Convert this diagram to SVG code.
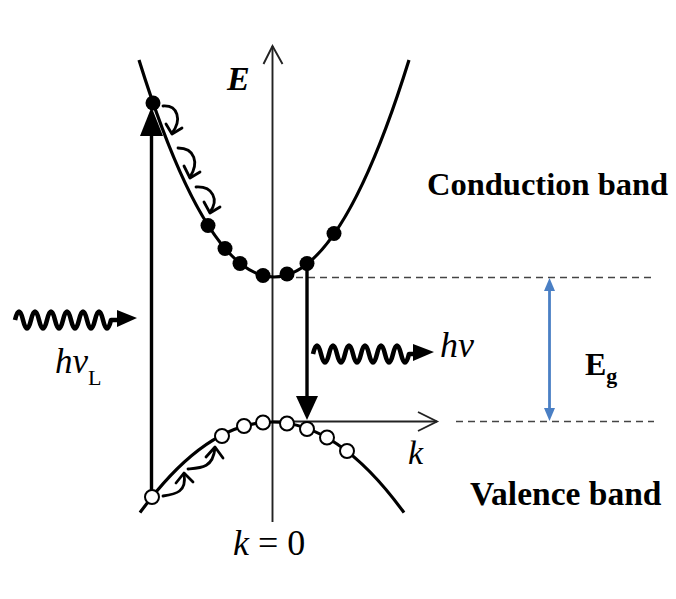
<svg xmlns="http://www.w3.org/2000/svg" width="676" height="599" viewBox="0 0 676 599">
<style>
.ax{fill:none;stroke:#222;stroke-width:1.9}
.band{fill:none;stroke:#000;stroke-width:3.2}
.dash{fill:none;stroke:#444;stroke-width:1.7;stroke-dasharray:7 5}
.arr{fill:none;stroke:#000;stroke-width:3.4}
.wave{fill:none;stroke:#000;stroke-width:4.6;stroke-linejoin:round}
.curl{fill:none;stroke:#000;stroke-width:2.8;stroke-linecap:round;stroke-linejoin:round}
.e{fill:#000}
.h{fill:#fff;stroke:#000;stroke-width:2}
.t{font-family:"Liberation Serif","Times New Roman",serif;fill:#000}
.it{font-style:italic}
.b{font-weight:bold}
</style>
<rect width="676" height="599" fill="#fff"/>
<g id="connectors">
  <line class="ax" x1="272.5" y1="46" x2="272.5" y2="522"/>
  <polyline class="ax" points="263.5,64 272.5,46 282.5,64"/>
  <line class="ax" x1="272.5" y1="421.5" x2="437" y2="421.5"/>
  <polyline class="ax" points="418,412 437,421.5 418,431"/>
  <line class="dash" x1="296" y1="277.5" x2="654" y2="277.5"/>
  <line class="dash" x1="456" y1="421.5" x2="654" y2="421.5"/>
  <line x1="549.5" y1="288" x2="549.5" y2="411" stroke="#4a7fc4" stroke-width="2.8"/>
  <polygon points="549.5,278 544,291 555,291" fill="#4a7fc4"/>
  <polygon points="549.5,421 544,408 555,408" fill="#4a7fc4"/>
  <line class="arr" x1="151.5" y1="491" x2="151.5" y2="130"/>
  <polygon points="151.5,107 140,136 163,136" fill="#000"/>
  <line class="arr" x1="307" y1="264" x2="307" y2="400"/>
  <polygon points="307,420 296,396 318,396" fill="#000"/>
  <path class="wave" d="M15,320 q4,-17 8,0 t8,0 t8,0 t8,0 t8,0 t8,0 t8,0 t8,0 t8,0 t8,0 t8,0 t8,0 l8,0"/>
  <polygon points="137,318 117,310 117,327" fill="#000"/>
  <path class="wave" d="M313,354 q4,-17 8,0 t8,0 t8,0 t8,0 t8,0 t8,0 t8,0 t8,0 t8,0 t8,0 t8,0 t8,0 l6,0"/>
  <polygon points="434,352 413,344 413,361" fill="#000"/>
  <path class="curl" d="M163,106 C178,105 182,120 172,133"/>
  <polyline class="curl" points="166,124 172,134 182,128"/>
  <path class="curl" d="M178,148 C195,148 199,163 190,177"/>
  <polyline class="curl" points="184,166 190,178 200,172"/>
  <path class="curl" d="M196,187 C213,186 219,200 210,212"/>
  <polyline class="curl" points="204,202 210,213 220,207"/>
  <path class="curl" d="M163,496 C176,494 187,492 184,474"/>
  <polyline class="curl" points="176,483 184,473 193,482"/>
  <path class="curl" d="M188,469 C201,468 213,468 215,448"/>
  <polyline class="curl" points="206,457 215,447 223,458"/>
</g>
<g id="conduction-band">
  <path class="band" d="M139,60 Q274,494 409,60"/>
  <circle class="e" cx="153" cy="103" r="7.5"/>
  <circle class="e" cx="208" cy="225.5" r="7.5"/>
  <circle class="e" cx="225" cy="248.5" r="7.5"/>
  <circle class="e" cx="240" cy="263.5" r="7.5"/>
  <circle class="e" cx="263" cy="275.5" r="7.5"/>
  <circle class="e" cx="287" cy="274" r="7.5"/>
  <circle class="e" cx="307" cy="263.5" r="7.5"/>
  <circle class="e" cx="334" cy="233.5" r="7.5"/>
</g>
<g id="valence-band">
  <path class="band" d="M140,512.6 Q272,331.4 404,512.6"/>
  <circle class="h" cx="152" cy="497" r="7"/>
  <circle class="h" cx="222" cy="436" r="7"/>
  <circle class="h" cx="244" cy="426" r="7"/>
  <circle class="h" cx="263" cy="422.5" r="7"/>
  <circle class="h" cx="287" cy="423.5" r="7"/>
  <circle class="h" cx="307" cy="429" r="7"/>
  <circle class="h" cx="327" cy="437.5" r="7"/>
  <circle class="h" cx="347" cy="451" r="7"/>
</g>
<g id="labels">
  <text class="t it b" x="227" y="90" font-size="34">E</text>
  <text class="t it" x="408" y="464" font-size="34">k</text>
  <text class="t" x="233" y="555" font-size="36"><tspan class="it">k</tspan> = 0</text>
  <text class="t it" x="55" y="373" font-size="35">hν<tspan font-style="normal" font-size="22" dy="12">L</tspan></text>
  <text class="t it" x="440" y="357" font-size="36">hν</text>
  <text class="t b" x="427" y="195" font-size="32.5">Conduction band</text>
  <text class="t b" x="470" y="505" font-size="33.5">Valence band</text>
  <text class="t b" x="585" y="375" font-size="32">E<tspan font-size="22" dy="8">g</tspan></text>
</g>
</svg>
